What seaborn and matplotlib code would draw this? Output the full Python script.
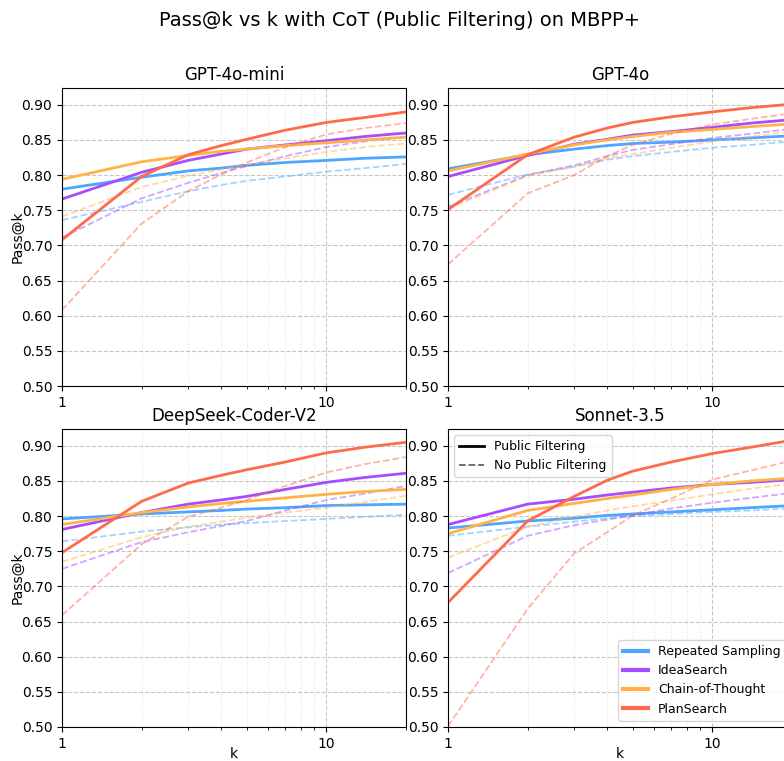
import matplotlib
matplotlib.use('Agg')
import matplotlib.pyplot as plt
from matplotlib.lines import Line2D
from matplotlib.ticker import FuncFormatter, NullFormatter
import pandas as pd
import seaborn as sns

# k values
k = [1, 2, 3, 4, 5, 7, 10, 14, 20]

models = ['GPT-4o-mini', 'GPT-4o', 'DeepSeek-Coder-V2', 'Sonnet-3.5']
methods = ['Repeated Sampling', 'IdeaSearch', 'Chain-of-Thought', 'PlanSearch']
colors = ['#4DA6FF', '#A64DFF', '#FFB347', '#FF6B4A']

# Pass@k with public filtering (solid lines)
mini_pf = {
    'Repeated Sampling': [.780, .797, .806, .810, .814, .818, .821, .824, .826],
    'IdeaSearch':        [.766, .804, .821, .830, .837, .843, .849, .855, .860],
    'Chain-of-Thought':  [.794, .819, .828, .834, .837, .842, .846, .850, .854],
    'PlanSearch':        [.708, .798, .829, .842, .851, .864, .875, .882, .890],
}
gpt4o_pf = {
    'Repeated Sampling': [.809, .829, .837, .842, .845, .847, .850, .853, .856],
    'IdeaSearch':        [.798, .828, .844, .851, .857, .862, .868, .874, .879],
    'Chain-of-Thought':  [.806, .830, .843, .850, .855, .861, .865, .869, .873],
    'PlanSearch':        [.751, .829, .854, .867, .875, .883, .890, .896, .901],
}
deepseek_pf = {
    'Repeated Sampling': [.796, .803, .806, .808, .810, .812, .815, .816, .817],
    'IdeaSearch':        [.781, .805, .817, .823, .828, .838, .848, .855, .861],
    'Chain-of-Thought':  [.788, .805, .813, .818, .821, .826, .831, .835, .838],
    'PlanSearch':        [.748, .821, .847, .858, .866, .877, .890, .898, .905],
}
sonnet_pf = {
    'Repeated Sampling': [.783, .793, .797, .801, .803, .806, .809, .812, .815],
    'IdeaSearch':        [.788, .817, .824, .830, .834, .840, .845, .848, .852],
    'Chain-of-Thought':  [.775, .808, .818, .825, .830, .838, .845, .850, .854],
    'PlanSearch':        [.677, .793, .828, .851, .864, .877, .889, .898, .908],
}

# Pass@k without public filtering (dashed lines)
mini_npf = {
    'Repeated Sampling': [.736, .762, .777, .786, .792, .798, .805, .810, .816],
    'IdeaSearch':        [.711, .767, .789, .803, .813, .827, .840, .848, .855],
    'Chain-of-Thought':  [.741, .783, .799, .808, .815, .824, .833, .840, .845],
    'PlanSearch':        [.608, .731, .777, .801, .818, .840, .858, .867, .874],
}
gpt4o_npf = {
    'Repeated Sampling': [.772, .801, .812, .822, .827, .833, .839, .843, .848],
    'IdeaSearch':        [.755, .800, .814, .827, .836, .844, .853, .859, .866],
    'Chain-of-Thought':  [.752, .799, .812, .824, .830, .839, .848, .855, .862],
    'PlanSearch':        [.673, .774, .800, .827, .843, .859, .872, .880, .888],
}
deepseek_npf = {
    'Repeated Sampling': [.764, .778, .784, .788, .790, .793, .796, .799, .802],
    'IdeaSearch':        [.725, .763, .777, .786, .793, .808, .823, .832, .843],
    'Chain-of-Thought':  [.735, .770, .785, .792, .798, .805, .812, .820, .829],
    'PlanSearch':        [.659, .760, .799, .812, .823, .843, .862, .874, .884],
}
sonnet_npf = {
    'Repeated Sampling': [.772, .785, .792, .797, .800, .803, .806, .808, .811],
    'IdeaSearch':        [.719, .772, .787, .795, .801, .811, .819, .826, .833],
    'Chain-of-Thought':  [.741, .785, .799, .808, .814, .822, .831, .839, .846],
    'PlanSearch':        [.501, .668, .747, .777, .801, .825, .852, .865, .879],
}

pf_data = [mini_pf, gpt4o_pf, deepseek_pf, sonnet_pf]
npf_data = [mini_npf, gpt4o_npf, deepseek_npf, sonnet_npf]

fig, axes = plt.subplots(2, 2, figsize=(7.84, 7.61), dpi=100)
fig.subplots_adjust(left=0.0791, right=1.0102, bottom=0.0447, top=0.8844,
                    wspace=0.122, hspace=0.144)

for i, ax in enumerate(axes.flat):
    for method, color in zip(methods, colors):
        df = pd.DataFrame({'k': k,
                           'pf': pf_data[i][method],
                           'npf': npf_data[i][method]})
        sns.lineplot(data=df, x='k', y='npf', ax=ax, color=color,
                     linestyle='--', linewidth=1.3, alpha=0.5, legend=False)
        sns.lineplot(data=df, x='k', y='pf', ax=ax, color=color,
                     linewidth=2, legend=False)

    ax.set_xscale('log')
    ax.set_xlim(1, 20)
    ax.set_ylim(0.5, 0.924)
    ax.xaxis.set_major_formatter(FuncFormatter(lambda v, p: f'{v:g}'))
    ax.xaxis.set_minor_formatter(NullFormatter())
    ax.set_title(models[i], fontsize=12)
    ax.grid(True, which='major', linestyle='--', linewidth=0.8, color='#a0a0a0', alpha=0.6)
    ax.grid(True, which='minor', linestyle=':', linewidth=0.8, color='#b0b0b0', alpha=0.35)
    ax.set_xlabel('k' if i >= 2 else '', fontsize=10, labelpad=-3)
    ax.set_ylabel('Pass@k' if i % 2 == 0 else '', fontsize=10, labelpad=-2)

# legends on the last panel
ax = axes[1, 1]
style_handles = [Line2D([0], [0], color='black', linewidth=2),
                 Line2D([0], [0], color='black', linestyle='--', linewidth=1.3, alpha=0.6)]
leg1 = ax.legend(style_handles, ['Public Filtering', 'No Public Filtering'],
                 loc='upper left', fontsize=9)
ax.add_artist(leg1)
method_handles = [Line2D([0], [0], color=c, linewidth=3) for c in colors]
ax.legend(method_handles, methods, loc='lower right', fontsize=9)

fig.suptitle('Pass@k vs k with CoT (Public Filtering) on MBPP+', fontsize=14,
             x=0.51, y=0.986)

fig.savefig('out.png', dpi=100)
